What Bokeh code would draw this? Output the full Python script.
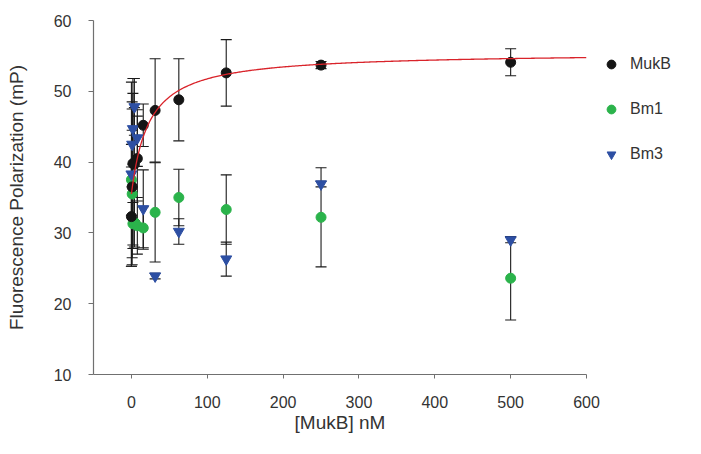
import numpy as np
from bokeh.plotting import figure
from bokeh.models import (ColumnDataSource, Whisker, TeeHead, Legend, LegendItem,
                          FixedTicker, Range1d)
from bokeh.embed import file_html
from bokeh.resources import INLINE

# ---- data ----
conc = [0, 0.98, 1.95, 3.9, 7.8, 15.6, 31.25, 62.5, 125, 250, 500]

mukb = [32.3, 36.5, 39.8, 39.7, 40.5, 45.2, 47.3, 48.8, 52.6, 53.7, 54.1]
mukb_err = [7.0, 11.0, 12.0, 8.0, 6.0, 3.0, 7.3, 5.8, 4.7, 0.5, 1.9]

bm1 = [37.5, 35.5, 31.3, 31.5, 31.0, 30.7, 32.9, 35.0, 33.3, 32.2, 23.6]
bm1_err = [5.0, 9.0, 3.0, 3.5, 4.0, 3.0, 7.0, 4.0, 4.9, 7.0, 5.9]

bm3 = [38.3, 42.5, 44.7, 47.8, 43.4, 33.4, 23.9, 30.2, 26.3, 36.9, 29.0]
bm3_err = [13.0, 6.0, 5.0, 4.0, 4.0, 5.5, 0.4, 1.8, 2.4, 0.4, 0.4]

# hyperbolic binding fit (MukB): y = y0 + bmax * x / (kd + x)
fit_y0, fit_bmax, fit_kd = 35.5, 20.0, 23.0
fit_x_max = 600

x_ticks = [0, 100, 200, 300, 400, 500, 600]
y_ticks = [10, 20, 30, 40, 50, 60]

FONT = "Liberation Sans"
TXT = "#333333"

p = figure(frame_width=493, frame_height=354, output_backend="svg", toolbar_location=None,
           x_range=Range1d(-50, 600), y_range=Range1d(10, 60),
           min_border_left=93, min_border_right=99, min_border_top=20,
           min_border_bottom=64)
p.outline_line_color = None
p.xgrid.visible = False
p.ygrid.visible = False
p.background_fill_color = "white"
p.border_fill_color = "white"

for ax in (p.xaxis[0], p.yaxis[0]):
    ax.axis_line_color = "#707070"
    ax.axis_line_width = 1.2
    ax.major_tick_line_color = "#707070"
    ax.major_tick_in = 0
    ax.minor_tick_line_color = None
    ax.major_label_text_font = FONT
    ax.major_label_text_font_size = "16px"
    ax.major_label_text_color = TXT
    ax.axis_label_text_font = FONT
    ax.axis_label_text_font_size = "19px"
    ax.axis_label_text_font_style = "normal"
    ax.axis_label_text_color = TXT

p.xaxis.ticker = FixedTicker(ticks=x_ticks)
p.yaxis.ticker = FixedTicker(ticks=y_ticks)
p.xaxis.major_tick_out = 4
p.yaxis.major_tick_out = 5
p.xaxis.major_label_standoff = 17
p.yaxis.major_label_standoff = 17
p.xaxis.axis_label = "[MukB] nM"
p.yaxis.axis_label = "Fluorescence Polarization (mP)"
p.xaxis.axis_label_standoff = 1
p.yaxis.axis_label_standoff = 24

series = [
    ("MukB", mukb, mukb_err, "circle", "#151515", 10),
    ("Bm1", bm1, bm1_err, "circle", "#2bb34b", 10),
    ("Bm3", bm3, bm3_err, "inverted_triangle", "#2d4fa3", 11),
]

# error bars first (under the markers)
for name, vals, errs, marker, color, size in series:
    v = np.array(vals)
    e = np.array(errs)
    src = ColumnDataSource(dict(x=conc, upper=v + e, lower=v - e))
    w = Whisker(base="x", upper="upper", lower="lower", source=src,
                line_color="#1a1a1a", line_width=1.1, level="underlay",
                upper_head=TeeHead(size=11, line_color="#1a1a1a", line_width=1.1),
                lower_head=TeeHead(size=11, line_color="#1a1a1a", line_width=1.1))
    p.add_layout(w)

renderers = {}
for name, vals, errs, marker, color, size in [series[1], series[2], series[0]]:
    r = p.scatter(conc, vals, marker=marker, size=size, fill_color=color,
                  line_color=color)
    renderers[name] = r

# fit curve
xf = np.linspace(0, fit_x_max, 400)
yf = fit_y0 + fit_bmax * xf / (fit_kd + xf)
p.line(xf, yf, line_color="#d9232a", line_width=1.3)

legend = Legend(items=[LegendItem(label=n, renderers=[renderers[n]]) for n in ["MukB", "Bm1", "Bm3"]],
                location="top_left", orientation="vertical",
                title=" ", title_text_font_size="12px", title_standoff=5,
                glyph_width=22, glyph_height=22, label_height=22, spacing=23,
                label_standoff=8, padding=0, margin=14,
                border_line_color=None, background_fill_alpha=0,
                label_text_font=FONT, label_text_font_size="16px",
                label_text_color=TXT)
p.add_layout(legend, "right")

open("out.html", "w").write(file_html(p, INLINE))
